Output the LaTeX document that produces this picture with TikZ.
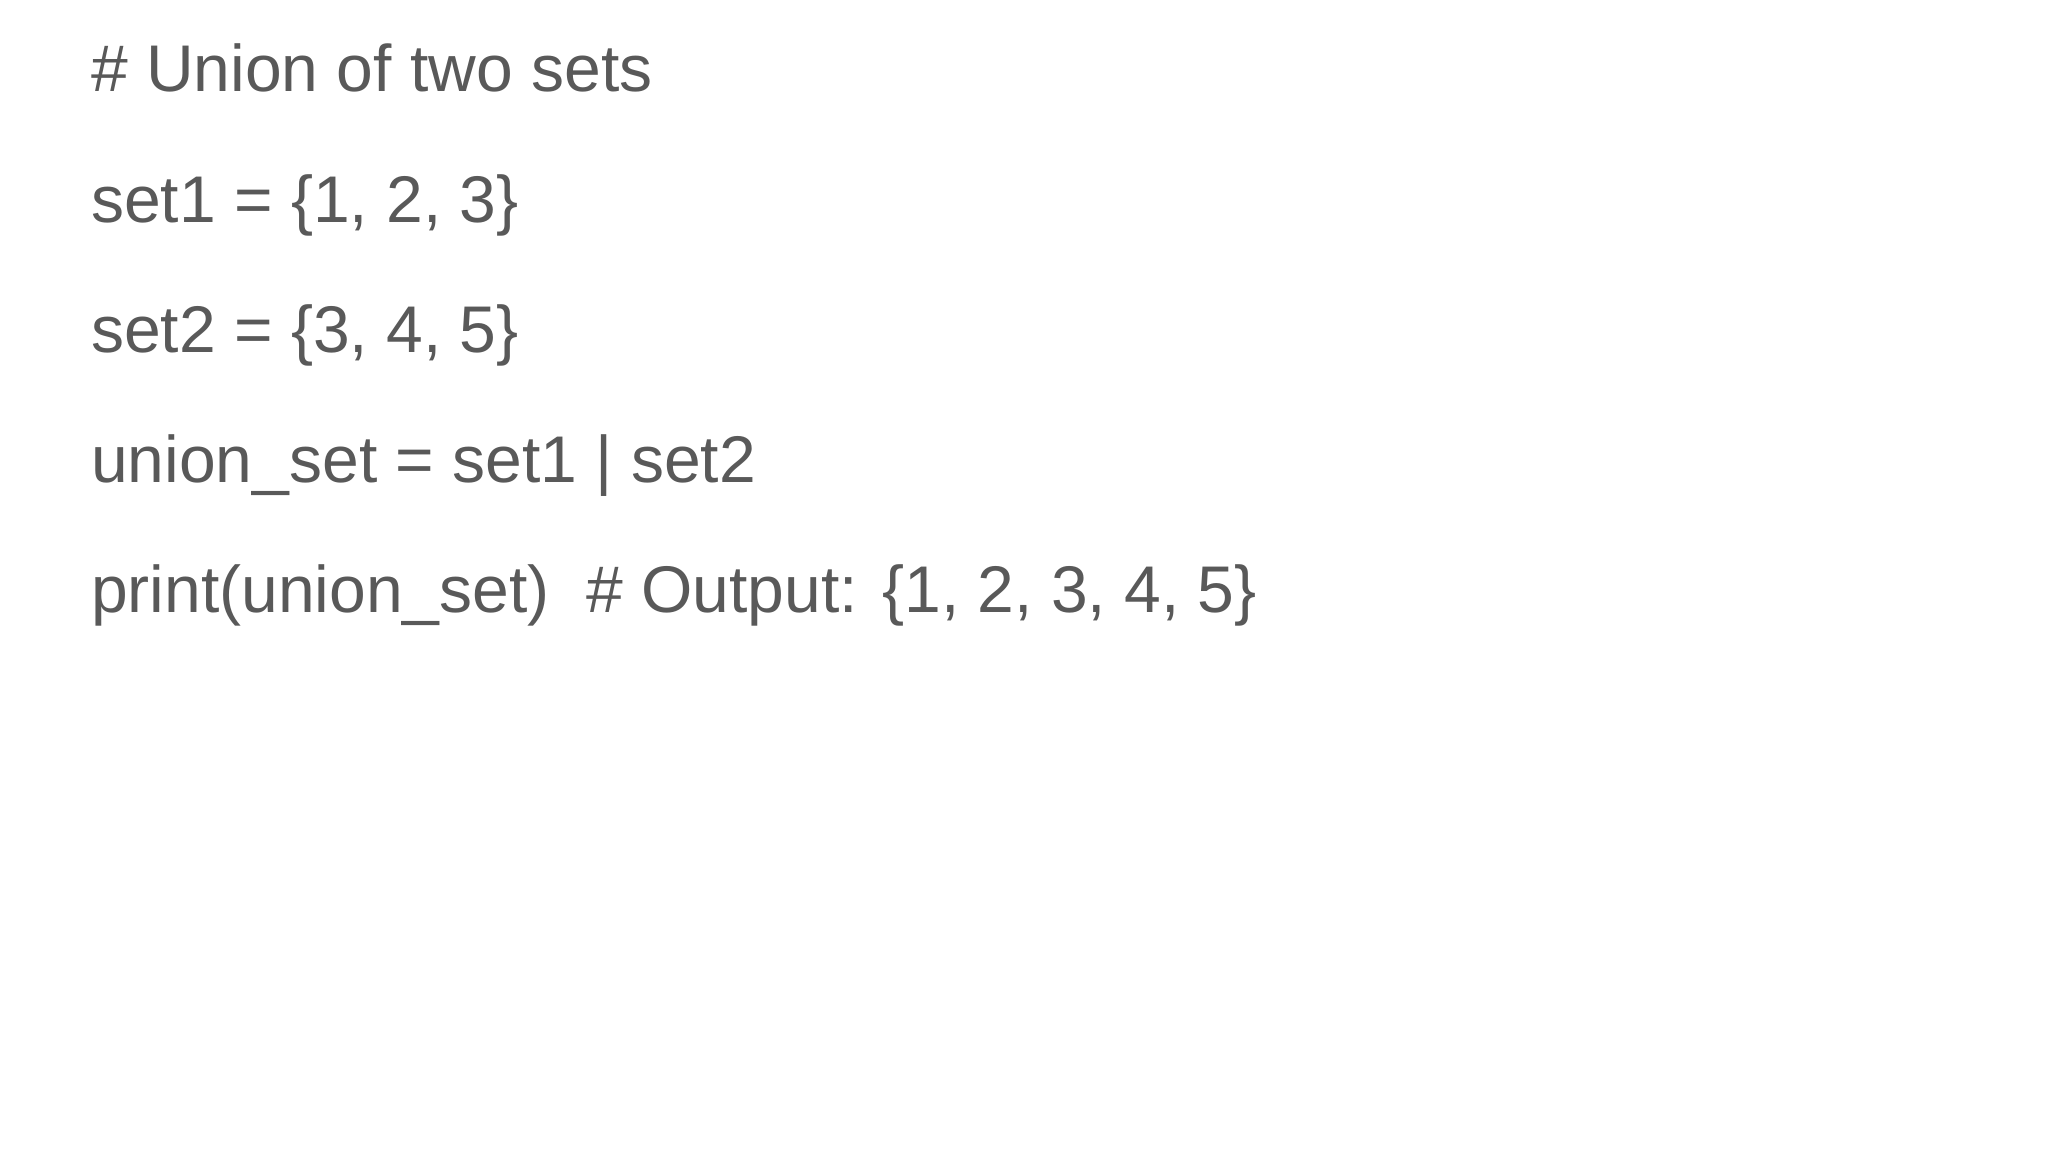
\documentclass[tikz,border=0pt]{standalone}
\usepackage{fontspec}
\setmainfont{Liberation Sans}
\definecolor{txt}{HTML}{595959}
\begin{document}
\begin{tikzpicture}[x=1pt,y=1pt,line/.style={anchor=base west,inner sep=0pt,text=txt,font=\fontsize{66}{66}\selectfont}]
\useasboundingbox (0,0) rectangle (2048,1152);
\node[line] (l1) at (91,1060) {\# Union of two sets};
\node[line] (l2) at (91,929) {set1 = \{1, 2, 3\}};
\node[line] (l3) at (91,799) {set2 = \{3, 4, 5\}};
\node[line] (l4) at (91,669) {union\_set = set1 | set2};
\node[line] (l5) at (91,539) {print(union\_set) \ \# Output: \{1, 2, 3, 4, 5\}};
\end{tikzpicture}
\end{document}
